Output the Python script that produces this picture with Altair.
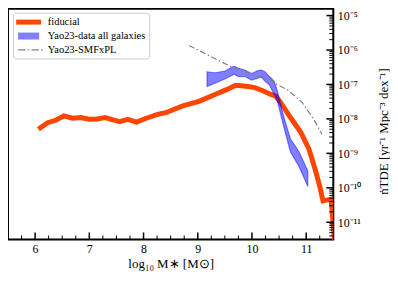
import altair as alt
import pandas as pd

# ---- data (log10 values) ----
fid_m = [6.06, 6.23, 6.38, 6.53, 6.69, 6.84, 6.99, 7.14, 7.29, 7.44, 7.56, 7.71, 7.87,
         8.05, 8.26, 8.41, 8.71, 9.02, 9.32, 9.53, 9.69, 9.75, 9.93, 10.05, 10.20, 10.35,
         10.44, 10.53, 10.71, 10.90, 11.05, 11.17, 11.25, 11.31, 11.46, 11.53]
fid_logn = [-8.30, -8.11, -8.04, -7.91, -7.98, -7.96, -8.01, -8.00, -7.96, -8.03, -8.08, -8.01, -8.09,
            -7.98, -7.87, -7.82, -7.63, -7.49, -7.29, -7.15, -7.03, -7.03, -7.06, -7.09, -7.18, -7.29,
            -7.34, -7.53, -7.96, -8.39, -8.87, -9.49, -9.96, -10.38, -10.33, -11.7]

band_m = [9.17, 9.32, 9.50, 9.67, 9.75, 9.87, 9.99, 10.11, 10.17, 10.24, 10.32, 10.41,
          10.47, 10.59, 10.71, 10.87, 11.03]
band_hi = [-6.63, -6.66, -6.61, -6.47, -6.53, -6.58, -6.68, -6.60, -6.58, -6.63, -6.77, -6.91,
           -7.20, -7.96, -8.58, -8.96, -9.51]
band_lo = [-7.06, -6.96, -6.84, -6.70, -6.77, -6.77, -6.87, -6.82, -6.77, -6.91, -7.01, -7.29,
           -7.49, -8.25, -8.96, -9.39, -9.96]

smf_m = [8.84, 9.62, 10.11, 10.35, 10.47, 10.65, 10.93, 11.14, 11.29]
smf_logn = [-5.87, -6.49, -6.77, -6.87, -7.01, -7.15, -7.53, -8.01, -8.44]

names = ["fiducial", "Yao23-data all galaxies", "Yao23-SMFxPL"]

x_major = [6, 7, 8, 9, 10, 11]
x_minor = [5.75, 6.25, 6.5, 6.75, 7.25, 7.5, 7.75, 8.25, 8.5, 8.75, 9.25, 9.5, 9.75,
           10.25, 10.5, 10.75, 11.25]
y_exp = [-5, -6, -7, -8, -9, -10, -11]
y_labels = ["10⁻⁵", "10⁻⁶", "10⁻⁷", "10⁻⁸", "10⁻⁹", "10⁻¹⁰", "10⁻¹¹"]
y_minor_mult = [2, 3, 4, 5, 6, 7, 8, 9]

# ---- styling ----
W, H = 327, 232
FONT = "Liberation Serif"
ORANGE = "#ff4500"
xdom = [5.5, 11.5]
ydom = [10 ** -11.5, 10 ** -4.8]

fid = pd.DataFrame({"m": fid_m, "n": [10 ** v for v in fid_logn]})
band = pd.DataFrame({"m": band_m, "n": [10 ** v for v in band_hi], "lo": [10 ** v for v in band_lo]})
smf = pd.DataFrame({"m": smf_m, "n": [10 ** v for v in smf_logn]})
xmaj = pd.DataFrame({"m": x_major})
xmin = pd.DataFrame({"m": x_minor})
ymaj = pd.DataFrame({"n": [10.0 ** e for e in y_exp]})
ymin_vals = [k * 10.0 ** e for e in range(-12, -4) for k in y_minor_mult]
ymin = pd.DataFrame({"n": [v for v in ymin_vals if ydom[0] <= v <= ydom[1]]})
leg = pd.DataFrame({"name": names, "m": [0.0] * 3, "n": [1e-8] * 3})

xs = alt.Scale(domain=xdom, nice=False, zero=False)
ys = alt.Scale(type="log", domain=ydom, nice=False)

label_expr = " : ".join(
    f"datum.value > {10.0 ** (e - 0.5):.3e} ? '{lab}'" for e, lab in zip(y_exp, y_labels)
) + " : ''"

x_axis = alt.Axis(values=x_major, format="d", domain=False, ticks=False, grid=False,
                  labelPadding=4, labelFont=FONT, labelFontSize=12, labelColor="black",
                  title="log₁₀ M∗ [M⊙]", titleFont=FONT, titleFontSize=13,
                  titleFontWeight="normal", titleColor="black", titlePadding=3)
y_axis = alt.Axis(orient="right", values=[10.0 ** e for e in y_exp], labelExpr=label_expr,
                  domain=False, ticks=False, grid=False, labelPadding=4, labelFont=FONT,
                  labelFontSize=12, labelColor="black",
                  title="ṅTDE [yr⁻¹ Mpc⁻³ dex⁻¹]", titleFont=FONT, titleFontSize=13,
                  titleFontWeight="normal", titleColor="black", titleAngle=270,
                  titleBaseline="middle", titleAlign="center", titleX=50, titleY=123)

fid_layer = alt.Chart(fid).mark_line(color=ORANGE, strokeWidth=5, clip=True).encode(
    x=alt.X("m:Q", scale=xs, axis=x_axis), y=alt.Y("n:Q", scale=ys, axis=y_axis))

band_layer = alt.Chart(band).mark_area(fill="#0000ff", fillOpacity=0.5, stroke="#0000ff",
                                       strokeOpacity=0.45, strokeWidth=1.2, clip=True).encode(
    x=alt.X("m:Q", scale=xs), y=alt.Y("n:Q", scale=ys), y2="lo:Q")

smf_layer = alt.Chart(smf).mark_line(color="#808080", strokeWidth=1.2,
                                     strokeDash=[6, 2.5, 1.5, 2.5], clip=True).encode(
    x=alt.X("m:Q", scale=xs), y=alt.Y("n:Q", scale=ys))

xmaj_layer = alt.Chart(xmaj).mark_rule(color="black", strokeWidth=1.5).encode(
    x=alt.X("m:Q", scale=xs), y=alt.value(H), y2=alt.value(H - 7))
xmin_layer = alt.Chart(xmin).mark_rule(color="black", strokeWidth=1).encode(
    x=alt.X("m:Q", scale=xs), y=alt.value(H), y2=alt.value(H - 4))
ymaj_layer = alt.Chart(ymaj).mark_rule(color="black", strokeWidth=1.5).encode(
    y=alt.Y("n:Q", scale=ys), x=alt.value(W - 7), x2=alt.value(W))
ymin_layer = alt.Chart(ymin).mark_rule(color="black", strokeWidth=1).encode(
    y=alt.Y("n:Q", scale=ys), x=alt.value(W - 4), x2=alt.value(W))

# legend symbols: symbol size 156 -> unit = 6.25px; paths span x in [-1, 3] (25px)
dash_path = ("M-0.7,-0.1H0.5V0.1H-0.7Z M0.85,-0.1H1.1V0.1H0.85Z "
             "M1.45,-0.1H2.65V0.1H1.45Z M3.0,-0.1H3.25V0.1H3.0Z")
paths = ["M-1,-0.4H3V0.4H-1Z", "M-0.7,-0.56H2.7V0.56H-0.7Z", dash_path]
leg_def = alt.Legend(title=None, orient="none", legendX=5, legendY=4)
leg_layer = alt.Chart(leg).mark_point(filled=True, clip=True, opacity=1).encode(
    x=alt.X("m:Q", scale=xs), y=alt.Y("n:Q", scale=ys),
    color=alt.Color("name:N", scale=alt.Scale(domain=names, range=[ORANGE, "#8080ff", "#808080"]),
                    legend=leg_def, sort=names),
    shape=alt.Shape("name:N", scale=alt.Scale(domain=names, range=paths), legend=leg_def, sort=names))

chart = alt.layer(fid_layer, band_layer, smf_layer, xmaj_layer, xmin_layer, ymaj_layer,
                  ymin_layer, leg_layer).properties(
    width=W, height=H, padding={"left": 0, "top": 0, "right": 0, "bottom": 0}
).configure(font=FONT).configure_view(stroke="black", strokeWidth=2).configure_legend(
    fillColor="white", strokeColor="#cccccc", cornerRadius=3, padding=3,
    labelFont=FONT, labelFontSize=10.5, labelColor="black", symbolSize=156,
    symbolStrokeWidth=0, labelOffset=19, rowPadding=2
)

chart.save("out.html", embed_options={"renderer": "svg", "actions": False})
